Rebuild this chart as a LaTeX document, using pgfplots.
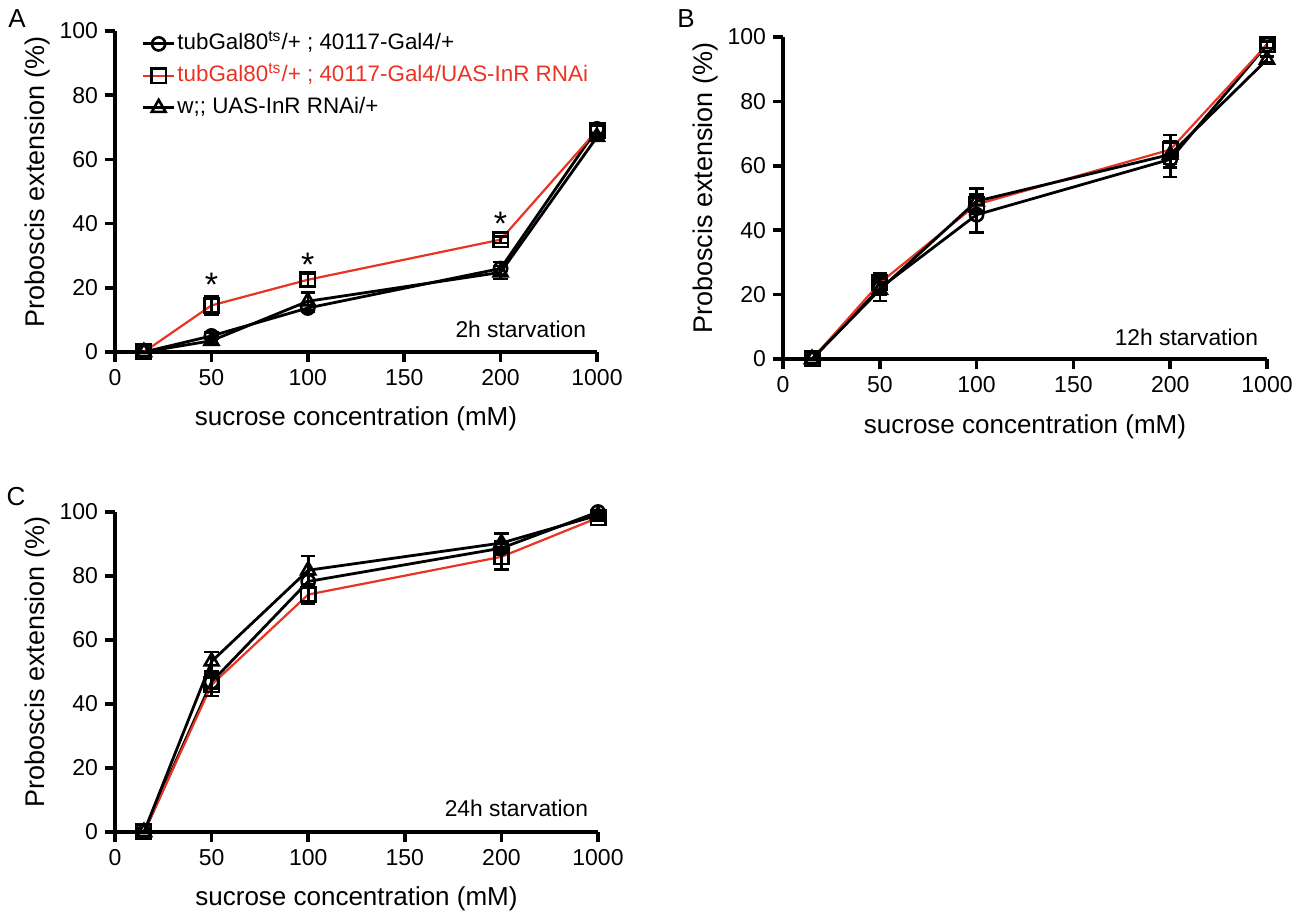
\documentclass[border=0pt]{standalone}
\usepackage{fontspec}
\setmainfont{Liberation Sans}
\usepackage{pgfplots}
\usepackage{pgfplotstable}
\pgfplotsset{compat=1.18}
\definecolor{gred}{RGB}{234,51,35}

% x = 15, 50, 100, 200, 1000 mM (1000 drawn at 250); e = SEM
\pgfplotstableread{
x y e
15 0 0
50 5 1
100 13.7 1
200 26 2
250 69.5 1.5
}\Acirc
\pgfplotstableread{
x y e
15 0 0
50 14.5 3
100 22.5 2
200 35 1
250 69 1.5
}\Asq
\pgfplotstableread{
x y e
15 0 0
50 3.5 1
100 15.8 2.7
200 24.8 2
250 67 1
}\Atri
\pgfplotstableread{
x y e
15 0 0
50 22 2
100 44.8 5.5
200 62 5.5
250 97.6 1
}\Bcirc
\pgfplotstableread{
x y e
15 0 0
50 23.6 3
100 48 3
200 65 4.5
250 97.6 1
}\Bsq
\pgfplotstableread{
x y e
15 0 0
50 21.5 3.5
100 49 4
200 63.5 4
250 93 1
}\Btri
\pgfplotstableread{
x y e
15 0 0
50 46.9 2
100 78.3 2
200 88.7 2
250 100 0.5
}\Ccirc
\pgfplotstableread{
x y e
15 0 0
50 46 3.5
100 74.2 3
200 86 4
250 98.2 1
}\Csq
\pgfplotstableread{
x y e
15 0 0
50 53.3 3
100 81.8 4.5
200 90.3 3
250 99 0.5
}\Ctri

\pgfplotsset{
  pe/.style={
    scale only axis, width=241pt, height=160.5pt,
    xmin=0, xmax=250, ymin=0, ymax=100,
    axis lines=left, axis line style={-, line width=1.8pt},
    tick style={line width=1.8pt, black}, tick align=outside, major tick length=5pt,
    xtick={0,50,100,150,200,250}, xticklabels={0,50,100,150,200,1000},
    ytick={0,20,40,60,80,100},
    ticklabel style={font=\fontsize{11.5}{13}\selectfont},
    /pgf/number format/assume math mode=true,
    xlabel={sucrose concentration (mM)},
    ylabel={Proboscis extension (\%)},
    xlabel style={font=\fontsize{13}{15}\selectfont, at={(axis description cs:0.5,-0.209)}, anchor=center},
    ylabel style={font=\fontsize{13.5}{15}\selectfont, at={(axis description cs:-0.16,0.53)}, anchor=center},
    clip=false,
  },
  ser/.style={mark options={solid, draw=black, fill=white, line width=1.3pt},
    error bars/.cd, y dir=both, y explicit,
    error bar style={black, line width=1.3pt},
    error mark options={rotate=90, black, line width=1.3pt, mark size=3.6pt}},
  circ/.style={black, line width=1.4pt, mark=o, mark size=3.3pt, ser},
  sq/.style={gred, line width=1.1pt, mark=square, mark size=3.6pt, ser},
  tri/.style={black, line width=1.4pt, mark=triangle, mark size=4pt, ser},
}

\begin{document}
\begin{tikzpicture}
\useasboundingbox (0,0) rectangle (652.5pt,457.5pt);

% panel A: 2h
\begin{axis}[pe, at={(57.5pt,281.5pt)}, anchor=south west,
  legend cell align=left,
  legend style={draw=none, fill=none, inner sep=0pt, row sep=3.5pt,
    at={(axis description cs:0.055,1.0)}, anchor=north west,
    font=\fontsize{11.2}{13}\selectfont,
    nodes={inner sep=1pt, text height=8pt, text depth=2.5pt}},
  legend image code/.code={\draw[mark repeat=2, mark phase=2] plot coordinates {(0cm,0cm) (0.27cm,0cm) (0.54cm,0cm)};}]
\addplot[circ] table[x=x, y=y, y error=e] {\Acirc};
\addlegendentry{tubGal80\textsuperscript{ts}/+ ; 40117-Gal4/+}
\addplot[sq] table[x=x, y=y, y error=e] {\Asq};
\addlegendentry{\textcolor{gred}{tubGal80\textsuperscript{ts}/+ ; 40117-Gal4/UAS-InR RNAi}}
\addplot[tri] table[x=x, y=y, y error=e] {\Atri};
\addlegendentry{w;; UAS-InR RNAi/+}
\node[font=\fontsize{17}{17}\selectfont] at (50,21) {*};
\node[font=\fontsize{17}{17}\selectfont] at (100,27.2) {*};
\node[font=\fontsize{17}{17}\selectfont] at (200,40) {*};
\node[anchor=base east, font=\fontsize{11.4}{13}\selectfont] at (rel axis cs:0.992,0.044) {2h starvation};
\end{axis}

% panel B: 12h
\begin{axis}[pe, width=242pt, height=161pt, at={(391.5pt,278pt)}, anchor=south west]
\addplot[circ] table[x=x, y=y, y error=e] {\Bcirc};
\addplot[sq] table[x=x, y=y, y error=e] {\Bsq};
\addplot[tri] table[x=x, y=y, y error=e] {\Btri};
\node[anchor=base east, font=\fontsize{11.4}{13}\selectfont] at (rel axis cs:0.996,0.043) {12h starvation};
\end{axis}

% panel C: 24h
\begin{axis}[pe, width=241.5pt, height=160pt, at={(57.5pt,41.5pt)}, anchor=south west]
\addplot[circ] table[x=x, y=y, y error=e] {\Ccirc};
\addplot[sq] table[x=x, y=y, y error=e] {\Csq};
\addplot[tri] table[x=x, y=y, y error=e] {\Ctri};
\node[anchor=base east, font=\fontsize{11.4}{13}\selectfont] at (rel axis cs:0.994,0.047) {24h starvation};
\end{axis}

\node[font=\fontsize{13}{15}\selectfont] at (8.5pt,448pt) {A};
\node[font=\fontsize{13}{15}\selectfont] at (343pt,448pt) {B};
\node[font=\fontsize{13}{15}\selectfont] at (8pt,209pt) {C};
\end{tikzpicture}
\end{document}
